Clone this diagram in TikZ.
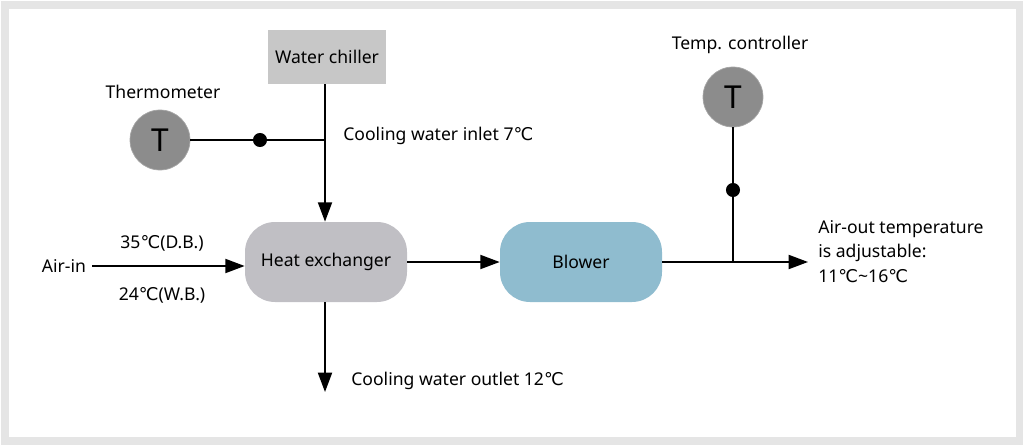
\documentclass[tikz,border=0pt]{standalone}
\usepackage{fontspec}
\setmainfont{Noto Sans}
\newfontfamily\dv{DejaVu Sans}
\newcommand{\dc}{{\dv ℃}}
\usetikzlibrary{arrows.meta}
\definecolor{hxc}{RGB}{192,191,196}
\definecolor{blc}{RGB}{143,188,207}
\begin{document}
\begin{tikzpicture}[x=0.02cm,y=-0.02cm,
  txt/.style={font=\fontsize{10}{12}\selectfont, inner sep=0pt},
  circ/.style={circle, fill=black!45, draw=gray!70, minimum size=60*0.02cm, inner sep=0pt, font=\fontsize{18}{20}\selectfont},
  box/.style={rounded corners=30*0.02cm, minimum width=162*0.02cm, minimum height=80*0.02cm, font=\fontsize{10}{12}\selectfont},
  ln/.style={line width=1pt},
  arr/.style={line width=1pt, -{Triangle[length=11pt,width=8pt]}},
  dot/.style={circle, fill=black, minimum size=8pt, inner sep=0pt}]
\useasboundingbox (0,0) rectangle (1024,446);
\draw[draw=black!10, line width=4pt] (5,5) rectangle (1019,441);
\node[fill=black!22, minimum width=118*0.02cm, minimum height=54*0.02cm, font=\fontsize{10}{12}\selectfont] (wc) at (327,57) {Water chiller};
\node[circ] (th) at (160,140) {T};
\node[txt] (thl) at (163,92) {Thermometer};
\node[dot] (d1) at (260,140) {};
\coordinate (j1) at (325,140);
\node[box, fill=hxc] (hx) at (326,262) {Heat exchanger};
\node[box, fill=blc] (bl) at (581,262) {Blower};
\node[circ] (tc) at (733,97) {T};
\node[txt] (tcl) at (740,45) {Temp. controller};
\node[dot] (d2) at (733,190) {};
\coordinate (j2) at (733,262);
\node[txt, anchor=west] (inl) at (343,136) {Cooling water inlet 7\dc};
\node[txt, anchor=west] (outl) at (351,381) {Cooling water outlet 12\dc};
\node[txt] (ain) at (64,266) {Air-in};
\node[txt] (db) at (162,243) {35\dc(D.B.)};
\node[txt] (wb) at (162,295) {24\dc(W.B.)};
\node[txt, anchor=north west, align=left, font=\fontsize{10}{14}\selectfont] (aout) at (818,220) {Air-out temperature\\is adjustable:\\11\dc\textasciitilde16\dc};
\coordinate (aend) at (808,262);
\coordinate (oend) at (325,392);
\draw[ln] (th) -- (d1) -- (j1);
\draw[arr] (wc.south -| j1) -- (hx.north -| j1);
\draw[arr] (ain.east) ++(6,0) -- (hx.west |- ain.east);
\draw[arr] (hx.east) -- (bl.west);
\draw[ln] (bl.east) -- (j2);
\draw[arr] (j2) -- (aend);
\draw[ln] (tc) -- (d2) -- (j2);
\draw[arr] (hx.south -| j1) -- (oend);
\end{tikzpicture}
\end{document}
